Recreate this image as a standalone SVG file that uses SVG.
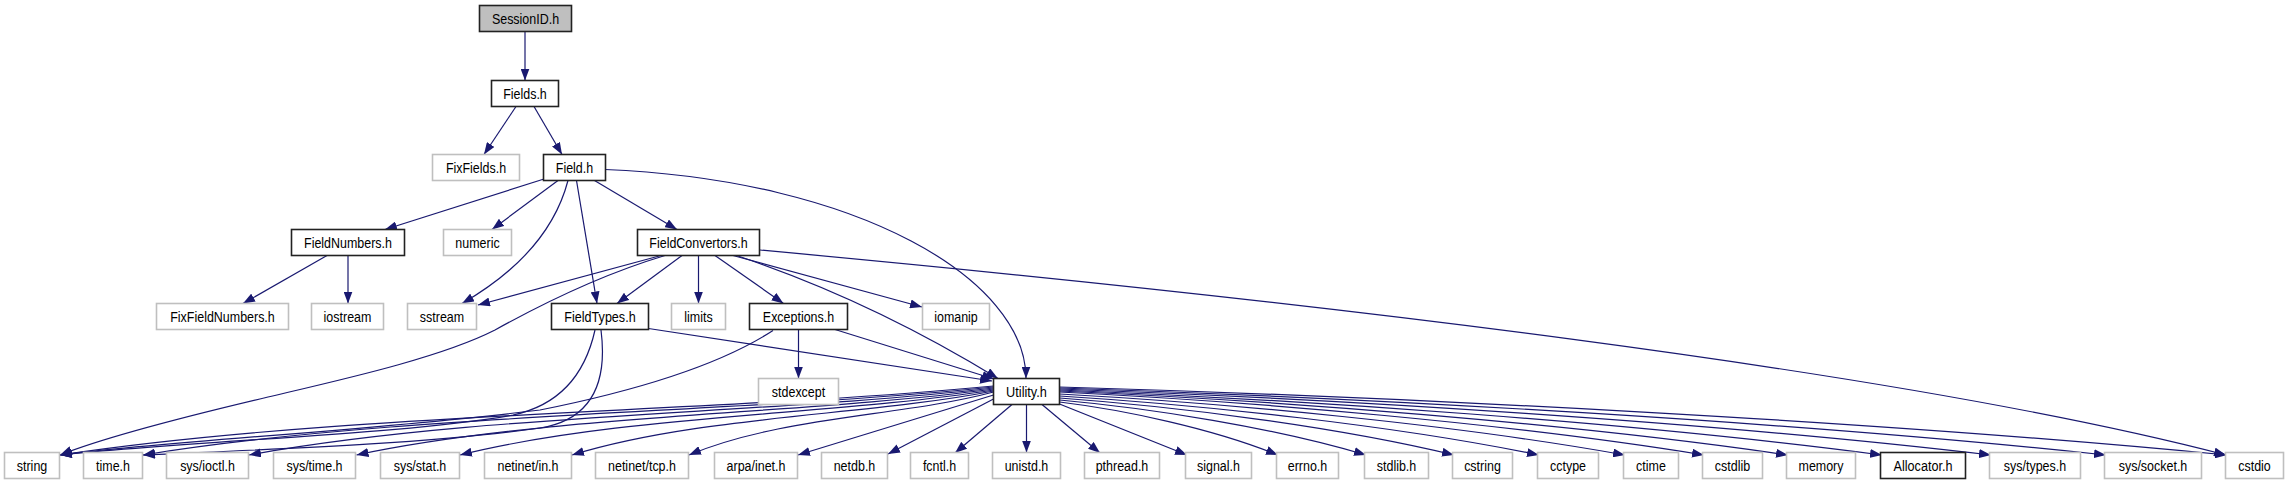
<svg xmlns="http://www.w3.org/2000/svg" width="2288" height="485" viewBox="0 0 2288 485">
<style>
.bg{fill:#fff}
.n rect{fill:#fff;stroke:#bfbfbf;stroke-width:1.6}
.n.d rect{stroke:#222}
.n.r rect{fill:#bfbfbf;stroke:#222}
.n text{font-family:"Liberation Sans",Arial,sans-serif;font-size:14px;fill:#000;text-anchor:middle}
.e path{fill:none;stroke:#191970;stroke-width:1.2;marker-end:url(#ah)}
</style>
<defs>
<marker id="ah" markerUnits="userSpaceOnUse" markerWidth="12" markerHeight="9" viewBox="0 0 12 9" refX="12" refY="4.5" orient="auto">
<path d="M0,0 L12,4.5 L0,9 z" fill="#191970"/>
</marker>
</defs>
<rect class="bg" x="0" y="0" width="2288" height="485"/>
<g id="edges" class="e">
<path d="M525,31.5 L525,80.5"/>
<path d="M516,106.5 L484,154.5"/>
<path d="M534,106.5 L562,154.5"/>
<path d="M544,179 L385,229.5"/>
<path d="M558,180.5 L492,229.5"/>
<path d="M568,180.5 C555,230 520,270 462,303.5"/>
<path d="M576.5,180.5 L597,303.5"/>
<path d="M594.5,180.5 L677,229.5"/>
<path d="M605,169.5 C860,180 1026,280 1026,378.5"/>
<path d="M327,255.5 L243,303.5"/>
<path d="M348,255.5 L348,303.5"/>
<path d="M661,255.5 L478,305"/>
<path d="M665,255.5 C600,275 540,305 495,330 C440,358 340,380 268,397 C200,413 110,435 60,455"/>
<path d="M682,255.5 L617,303.5"/>
<path d="M698.5,255.5 L698.5,303.5"/>
<path d="M715,255.5 L783.5,303.5"/>
<path d="M733,255.5 L922,307"/>
<path d="M736.5,255.5 Q870,300 998,378.5"/>
<path d="M760,250 C1300,300 1900,370 2226,455"/>
<path d="M648.5,328.5 L992,381"/>
<path d="M595,330 C585,375 560,405 513,415 C400,435 200,440 60,455"/>
<path d="M601,330 C608,385 590,420 540,428 C420,445 250,450 143,455"/>
<path d="M798.5,329.5 L798.5,378.5"/>
<path d="M835,329.5 L994,379"/>
<path d="M773,330.5 C720,365 640,390 540,410 C380,430 180,440 60,455"/>
<path d="M993.5,386 C713.5,412.8 340,412.8 60,455"/>
<path d="M993.5,387 C738.4,413.4 398.2,413.4 143,455"/>
<path d="M993.5,388 C770.2,414 472.4,414 249,455"/>
<path d="M993.5,389 C802.2,414.6 547.3,414.6 356.5,455"/>
<path d="M993.5,390 C833.5,415.2 620,415.2 460,455"/>
<path d="M993.5,391 C867.4,415.8 699.2,415.8 572,455"/>
<path d="M993.5,392 C902.5,416.4 781,416.4 689,455"/>
<path d="M993.5,395 L798,455"/>
<path d="M993.5,399 L888,454"/>
<path d="M1012,404.5 L955,453"/>
<path d="M1026.5,404.5 L1026.5,452.5"/>
<path d="M1042,404.5 L1100,453"/>
<path d="M1059.5,404 L1187,455"/>
<path d="M1059.5,402 C1125,410 1212.5,428.5 1278,455"/>
<path d="M1059.5,400 C1151.5,408.3 1274,427.5 1366,455"/>
<path d="M1059.5,398 C1177.9,406.6 1335.7,426.5 1454,455"/>
<path d="M1059.5,396 C1203.4,404.9 1395.2,425.5 1539,455"/>
<path d="M1059.5,394 C1229.2,403.2 1455.4,424.5 1625,455"/>
<path d="M1059.5,392 C1252.9,401.5 1510.7,423.5 1704,455"/>
<path d="M1059.5,391 C1278,400.6 1569.5,423 1788,455"/>
<path d="M1059.5,390 C1306.3,399.8 1635.3,422.5 1882,455"/>
<path d="M1059.5,389 C1339,398.9 1711.6,422 1991,455"/>
<path d="M1059.5,388 C1373.5,398 1792,421.5 2106,455"/>
<path d="M1059.5,387 C1409.8,397.2 1876.8,421 2227,455"/>
</g>
<g id="n_SessionID" class="n r"><rect x="479.5" y="5.5" width="92" height="26"/><text x="525.5" y="23.5" textLength="67.2" lengthAdjust="spacingAndGlyphs">SessionID.h</text></g>
<g id="n_Fields" class="n d"><rect x="491.5" y="80.5" width="67" height="26"/><text x="525" y="98.5" textLength="43.6" lengthAdjust="spacingAndGlyphs">Fields.h</text></g>
<g id="n_FixFields" class="n"><rect x="432.5" y="154.5" width="87" height="26"/><text x="476" y="172.5" textLength="60.2" lengthAdjust="spacingAndGlyphs">FixFields.h</text></g>
<g id="n_Field" class="n d"><rect x="543.5" y="154.5" width="62" height="26"/><text x="574.5" y="172.5" textLength="37.4" lengthAdjust="spacingAndGlyphs">Field.h</text></g>
<g id="n_FieldNumbers" class="n d"><rect x="291.5" y="229.5" width="113" height="26"/><text x="348" y="247.5" textLength="87.9" lengthAdjust="spacingAndGlyphs">FieldNumbers.h</text></g>
<g id="n_numeric" class="n"><rect x="443.5" y="229.5" width="68" height="26"/><text x="477.5" y="247.5" textLength="44.3" lengthAdjust="spacingAndGlyphs">numeric</text></g>
<g id="n_FieldConvertors" class="n d"><rect x="637.5" y="229.5" width="122" height="26"/><text x="698.5" y="247.5" textLength="98.3" lengthAdjust="spacingAndGlyphs">FieldConvertors.h</text></g>
<g id="n_FixFieldNumbers" class="n"><rect x="156.5" y="303.5" width="132" height="26"/><text x="222.5" y="321.5" textLength="104.5" lengthAdjust="spacingAndGlyphs">FixFieldNumbers.h</text></g>
<g id="n_iostream" class="n"><rect x="311.5" y="303.5" width="72" height="26"/><text x="347.5" y="321.5" textLength="47.8" lengthAdjust="spacingAndGlyphs">iostream</text></g>
<g id="n_sstream" class="n"><rect x="407.5" y="303.5" width="69" height="26"/><text x="442" y="321.5" textLength="44.3" lengthAdjust="spacingAndGlyphs">sstream</text></g>
<g id="n_FieldTypes" class="n d"><rect x="551.5" y="303.5" width="97" height="26"/><text x="600" y="321.5" textLength="71.3" lengthAdjust="spacingAndGlyphs">FieldTypes.h</text></g>
<g id="n_limits" class="n"><rect x="671.5" y="303.5" width="54" height="26"/><text x="698.5" y="321.5" textLength="28.4" lengthAdjust="spacingAndGlyphs">limits</text></g>
<g id="n_Exceptions" class="n d"><rect x="749.5" y="303.5" width="98" height="26"/><text x="798.5" y="321.5" textLength="71.3" lengthAdjust="spacingAndGlyphs">Exceptions.h</text></g>
<g id="n_iomanip" class="n"><rect x="922.5" y="303.5" width="67" height="26"/><text x="956" y="321.5" textLength="43.6" lengthAdjust="spacingAndGlyphs">iomanip</text></g>
<g id="n_stdexcept" class="n"><rect x="758.5" y="378.5" width="80" height="26"/><text x="798.5" y="396.5" textLength="53.3" lengthAdjust="spacingAndGlyphs">stdexcept</text></g>
<g id="n_Utility" class="n d"><rect x="993.5" y="378.5" width="66" height="26"/><text x="1026.5" y="396.5" textLength="40.8" lengthAdjust="spacingAndGlyphs">Utility.h</text></g>
<g id="n_string" class="n"><rect x="4.5" y="452.5" width="55" height="26"/><text x="32" y="470.5" textLength="30.5" lengthAdjust="spacingAndGlyphs">string</text></g>
<g id="n_time" class="n"><rect x="83.5" y="452.5" width="59" height="26"/><text x="113" y="470.5" textLength="33.9" lengthAdjust="spacingAndGlyphs">time.h</text></g>
<g id="n_sys_ioctl" class="n"><rect x="166.5" y="452.5" width="82" height="26"/><text x="207.5" y="470.5" textLength="54.7" lengthAdjust="spacingAndGlyphs">sys/ioctl.h</text></g>
<g id="n_sys_time" class="n"><rect x="273.5" y="452.5" width="82" height="26"/><text x="314.5" y="470.5" textLength="56.1" lengthAdjust="spacingAndGlyphs">sys/time.h</text></g>
<g id="n_sys_stat" class="n"><rect x="380.5" y="452.5" width="79" height="26"/><text x="420" y="470.5" textLength="52.6" lengthAdjust="spacingAndGlyphs">sys/stat.h</text></g>
<g id="n_netinet_in" class="n"><rect x="484.5" y="452.5" width="87" height="26"/><text x="528" y="470.5" textLength="61" lengthAdjust="spacingAndGlyphs">netinet/in.h</text></g>
<g id="n_netinet_tcp" class="n"><rect x="595.5" y="452.5" width="93" height="26"/><text x="642" y="470.5" textLength="67.9" lengthAdjust="spacingAndGlyphs">netinet/tcp.h</text></g>
<g id="n_arpa_inet" class="n"><rect x="714.5" y="452.5" width="83" height="26"/><text x="756" y="470.5" textLength="58.9" lengthAdjust="spacingAndGlyphs">arpa/inet.h</text></g>
<g id="n_netdb" class="n"><rect x="821.5" y="452.5" width="66" height="26"/><text x="854.5" y="470.5" textLength="41.6" lengthAdjust="spacingAndGlyphs">netdb.h</text></g>
<g id="n_fcntl" class="n"><rect x="910.5" y="452.5" width="58" height="26"/><text x="939.5" y="470.5" textLength="33.2" lengthAdjust="spacingAndGlyphs">fcntl.h</text></g>
<g id="n_unistd" class="n"><rect x="992.5" y="452.5" width="68" height="26"/><text x="1026.5" y="470.5" textLength="43.6" lengthAdjust="spacingAndGlyphs">unistd.h</text></g>
<g id="n_pthread" class="n"><rect x="1084.5" y="452.5" width="75" height="26"/><text x="1122" y="470.5" textLength="52.6" lengthAdjust="spacingAndGlyphs">pthread.h</text></g>
<g id="n_signal" class="n"><rect x="1185.5" y="452.5" width="66" height="26"/><text x="1218.5" y="470.5" textLength="42.9" lengthAdjust="spacingAndGlyphs">signal.h</text></g>
<g id="n_errno" class="n"><rect x="1276.5" y="452.5" width="62" height="26"/><text x="1307.5" y="470.5" textLength="39.5" lengthAdjust="spacingAndGlyphs">errno.h</text></g>
<g id="n_stdlib" class="n"><rect x="1364.5" y="452.5" width="64" height="26"/><text x="1396.5" y="470.5" textLength="39.5" lengthAdjust="spacingAndGlyphs">stdlib.h</text></g>
<g id="n_cstring" class="n"><rect x="1452.5" y="452.5" width="60" height="26"/><text x="1482.5" y="470.5" textLength="36.7" lengthAdjust="spacingAndGlyphs">cstring</text></g>
<g id="n_cctype" class="n"><rect x="1537.5" y="452.5" width="61" height="26"/><text x="1568" y="470.5" textLength="36" lengthAdjust="spacingAndGlyphs">cctype</text></g>
<g id="n_ctime" class="n"><rect x="1623.5" y="452.5" width="55" height="26"/><text x="1651" y="470.5" textLength="29.8" lengthAdjust="spacingAndGlyphs">ctime</text></g>
<g id="n_cstdlib" class="n"><rect x="1702.5" y="452.5" width="60" height="26"/><text x="1732.5" y="470.5" textLength="35.3" lengthAdjust="spacingAndGlyphs">cstdlib</text></g>
<g id="n_memory" class="n"><rect x="1786.5" y="452.5" width="69" height="26"/><text x="1821" y="470.5" textLength="45" lengthAdjust="spacingAndGlyphs">memory</text></g>
<g id="n_Allocator" class="n d"><rect x="1880.5" y="452.5" width="85" height="26"/><text x="1923" y="470.5" textLength="58.9" lengthAdjust="spacingAndGlyphs">Allocator.h</text></g>
<g id="n_sys_types" class="n"><rect x="1989.5" y="452.5" width="91" height="26"/><text x="2035" y="470.5" textLength="62.3" lengthAdjust="spacingAndGlyphs">sys/types.h</text></g>
<g id="n_sys_socket" class="n"><rect x="2104.5" y="452.5" width="97" height="26"/><text x="2153" y="470.5" textLength="68.6" lengthAdjust="spacingAndGlyphs">sys/socket.h</text></g>
<g id="n_cstdio" class="n"><rect x="2225.5" y="452.5" width="58" height="26"/><text x="2254.5" y="470.5" textLength="32.5" lengthAdjust="spacingAndGlyphs">cstdio</text></g>
</svg>
